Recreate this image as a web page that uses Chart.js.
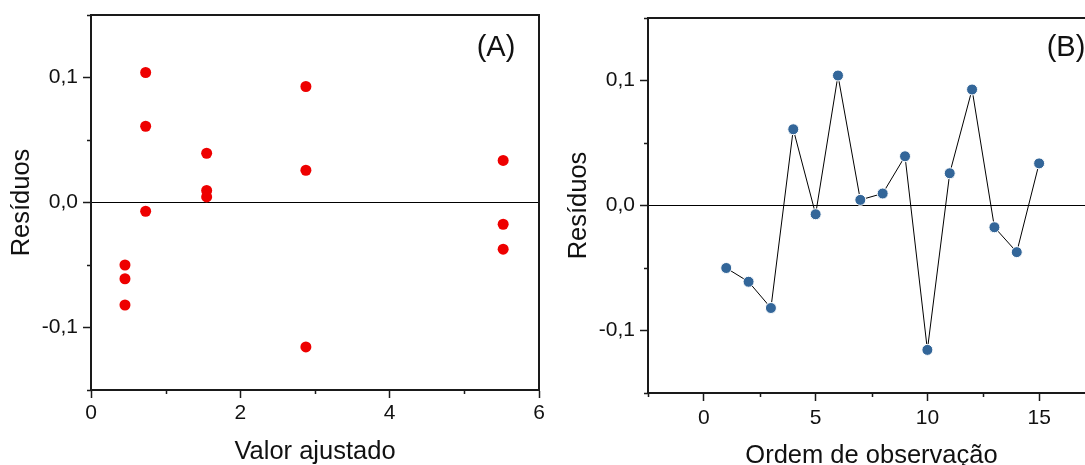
<!DOCTYPE html>
<html>
<head>
<meta charset="utf-8">
<script src="https://cdn.jsdelivr.net/npm/chart.js@4.4.1/dist/chart.umd.min.js"></script>
<style>
    html, body { margin: 0; padding: 0; background: #fff; overflow: hidden; width: 1085px; height: 465px; }
    #wrap { position: relative; width: 1085px; height: 465px; overflow: hidden; }
    canvas { position: absolute; top: 0; }
    #chartA { left: 0; }
    #chartB { left: 560px; }
</style>
</head>
<body>
<div id="wrap">
    <canvas id="chartA" width="560" height="465"></canvas>
    <canvas id="chartB" width="556" height="465"></canvas>
</div>
<script>
// Data
const observationOrder = [1, 2, 3, 4, 5, 6, 7, 8, 9, 10, 11, 12, 13, 14, 15];
const fittedValues = [0.455, 0.455, 0.455, 0.732, 0.732, 0.732, 1.549, 1.549, 1.549, 2.878, 2.878, 2.878, 5.52, 5.52, 5.52];
const residuals = [-0.050, -0.061, -0.082, 0.061, -0.007, 0.104, 0.0045, 0.0096, 0.0394, -0.1155, 0.0258, 0.0928, -0.0174, -0.0373, 0.0337];

// Tick values
const majorTicksY = [-0.1, 0, 0.1];
const minorTicksY = [-0.15, -0.05, 0.05, 0.15];
const majorTicksA = [0, 2, 4, 6];
const minorTicksA = [1, 3, 5];
const majorTicksB = [0, 5, 10, 15];
const minorTicksB = [-2.5, 2.5, 7.5, 12.5, 17.5];

const AXIS_COLOR = '#1a1a1a';
const TEXT_COLOR = '#111';
const FONT = '"Liberation Sans", Arial, sans-serif';

Chart.defaults.font.family = FONT;
Chart.defaults.color = TEXT_COLOR;

function formatComma(v) {
    if (Math.abs(v) < 1e-9) return '0,0';
    return v.toFixed(1).replace('.', ',');
}

// Frame, minor ticks and panel letter
function panelPlugin(label, labelX, minorX, minorY) {
    return {
        id: 'panelDecor',
        afterDraw(chart) {
            const { ctx, chartArea: a, scales: { x, y } } = chart;
            ctx.save();
            ctx.strokeStyle = AXIS_COLOR;
            ctx.lineWidth = 2;
            ctx.beginPath();
            ctx.moveTo(a.left, a.top);
            ctx.lineTo(a.right, a.top);
            ctx.lineTo(a.right, a.bottom);
            ctx.stroke();

            ctx.lineWidth = 1.5;
            ctx.beginPath();
            minorX.forEach(v => {
                const px = Math.round(x.getPixelForValue(v)) + 0.5;
                ctx.moveTo(px, a.bottom);
                ctx.lineTo(px, a.bottom + 4);
            });
            minorY.forEach(v => {
                const py = Math.round(y.getPixelForValue(v)) + 0.5;
                ctx.moveTo(a.left, py);
                ctx.lineTo(a.left - 4, py);
            });
            ctx.stroke();

            ctx.fillStyle = TEXT_COLOR;
            ctx.font = '29px ' + FONT;
            ctx.textAlign = 'center';
            ctx.textBaseline = 'middle';
            ctx.fillText(label, labelX, 48);
            ctx.restore();
        }
    };
}

function buildScales(xMin, xMax, xMajors, xTitle, yWidth, xHeight, yPad, yTitlePad, xTitlePad, xTickPad) {
    return {
        x: {
            type: 'linear',
            min: xMin,
            max: xMax,
            afterBuildTicks: scale => { scale.ticks = xMajors.map(v => ({ value: v })); },
            afterFit: scale => { scale.height = xHeight; scale.paddingLeft = 0; scale.paddingRight = 0; },
            border: { display: true, color: AXIS_COLOR, width: 2 },
            grid: { drawOnChartArea: false, drawTicks: true, tickLength: 8, tickColor: AXIS_COLOR, tickWidth: 1.5 },
            ticks: { font: { size: 21 }, color: TEXT_COLOR, padding: xTickPad, maxRotation: 0, callback: v => String(v) },
            title: { display: true, text: xTitle, font: { size: 25.5 }, color: TEXT_COLOR, padding: { top: 0, bottom: xTitlePad } }
        },
        y: {
            type: 'linear',
            min: -0.15,
            max: 0.15,
            afterBuildTicks: scale => { scale.ticks = majorTicksY.map(v => ({ value: v })); },
            afterFit: scale => { scale.width = yWidth; scale.paddingTop = 0; scale.paddingBottom = 0; },
            border: { display: true, color: AXIS_COLOR, width: 2 },
            grid: {
                drawOnChartArea: true,
                drawTicks: true,
                tickLength: 8,
                tickColor: AXIS_COLOR,
                tickWidth: 1.5,
                lineWidth: 1,
                color: ctx => (ctx.tick && Math.abs(ctx.tick.value) < 1e-9) ? '#000' : 'rgba(0,0,0,0)'
            },
            ticks: { font: { size: 21 }, color: TEXT_COLOR, padding: yPad, callback: v => formatComma(v) },
            title: { display: true, text: 'Resíduos', font: { size: 25.5 }, color: TEXT_COLOR, padding: { top: yTitlePad, bottom: 0 } }
        }
    };
}

const chartA = new Chart(document.getElementById('chartA'), {
    type: 'scatter',
    data: {
        datasets: [{
            data: fittedValues.map((v, i) => ({ x: v, y: residuals[i] })),
            backgroundColor: '#ee0000',
            borderColor: '#ee0000',
            borderWidth: 0,
            pointRadius: 5.5,
            pointHoverRadius: 5.5
        }]
    },
    options: {
        responsive: false,
        animation: false,
        devicePixelRatio: 1,
        layout: { padding: { top: 15, right: 21, bottom: 0, left: 0 } },
        plugins: { legend: { display: false }, tooltip: { enabled: false } },
        scales: buildScales(0, 6, majorTicksA, 'Valor ajustado', 91, 75, 5, 7, -2, 3)
    },
    plugins: [panelPlugin('(A)', 496, minorTicksA, minorTicksY)]
});

const chartB = new Chart(document.getElementById('chartB'), {
    type: 'line',
    data: {
        datasets: [{
            data: observationOrder.map((v, i) => ({ x: v, y: residuals[i] })),
            borderColor: '#000',
            borderWidth: 1,
            backgroundColor: '#336699',
            pointBackgroundColor: '#336699',
            pointBorderColor: '#ffffff',
            pointBorderWidth: 1,
            pointRadius: 5.5,
            pointHoverRadius: 5.5,
            tension: 0,
            fill: false
        }]
    },
    options: {
        responsive: false,
        animation: false,
        devicePixelRatio: 1,
        layout: { padding: { top: 18, right: 21, bottom: 0, left: 0 } },
        plugins: { legend: { display: false }, tooltip: { enabled: false } },
        scales: buildScales(-2.5, 17.5, majorTicksB, 'Ordem de observação', 88, 72, 5, 4, -6, 5)
    },
    plugins: [panelPlugin('(B)', 506, minorTicksB, minorTicksY)]
});
</script>
</body>
</html>
